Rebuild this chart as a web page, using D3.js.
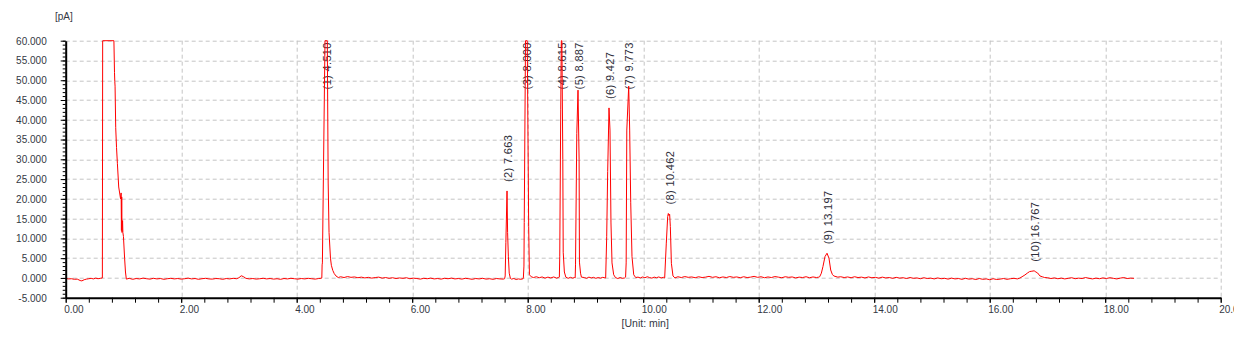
<!DOCTYPE html>
<html>
<head>
<meta charset="utf-8">
<script src="https://cdn.jsdelivr.net/npm/d3@7"></script>
<style>
  body { margin: 0; background: #fff; }
  text { font-family: "Liberation Sans", Arial, sans-serif; }
</style>
</head>
<body>
<div id="chart"></div>
<script>
// ---- data (time in min, signal in pA) ----
const xTicks = [0, 2, 4, 6, 8, 10, 12, 14, 16, 18, 20];
const xTickLabels = ["0.00", "2.00", "4.00", "6.00", "8.00", "10.00", "12.00", "14.00", "16.00", "18.00", "20.00"];
const yTicks = [-5000, 0, 5000, 10000, 15000, 20000, 25000, 30000, 35000, 40000, 45000, 50000, 55000, 60000];
const yTickLabels = ["-5.000", "0.000", "5.000", "10.000", "15.000", "20.000", "25.000", "30.000", "35.000", "40.000", "45.000", "50.000", "55.000", "60.000"];

const peakNames = ["(1) 4.510", "(2) 7.663", "(3) 8.000", "(4) 8.615", "(5) 8.887", "(6) 9.427", "(7) 9.773", "(8) 10.462", "(9) 13.197", "(10) 16.767"];
const peakApex = [4.51, 7.642, 7.977, 8.587, 8.871, 9.408, 9.749, 10.447, 13.183, 16.77];
const peakHeight = [60000, 22000, 60000, 60000, 47500, 43000, 48500, 16300, 6250, 1800];

// solvent front
const solvent = [
  [0.00,-150],[0.05,-250],[0.10,-200],[0.15,-350],[0.20,-300],[0.25,-650],[0.28,-750],[0.32,-450],
  [0.36,-300],[0.40,-200],[0.44,-100],[0.48,-250],[0.52,-50],[0.56,-200],[0.60,-100],[0.635,0],
  [0.64,60000],[0.835,60000],[0.845,52000],[0.85,49700],[0.855,48500],[0.866,38000],[0.88,33000],
  [0.895,29000],[0.918,23000],[0.95,20000],[0.96,21500],[0.965,12000],[0.97,20500],[0.975,11500],
  [0.985,14500],[0.99,11500],[1.00,10500],[1.02,5000],[1.035,1500],[1.05,-300]
];

// baseline and peaks 1..10
const trace = [
  [1.10,-100],[1.16,-350],[1.22,-150],[1.28,-250],[1.34,-50],[1.40,-200],[1.46,-300],[1.52,-100],
  [1.58,-250],[1.64,-150],[1.70,-350],[1.76,-200],[1.82,-100],[1.88,-250],[1.94,-150],[2.00,-300],
  [2.06,-200],[2.12,-50],[2.18,-250],[2.24,-150],[2.30,-350],[2.36,-200],[2.42,-100],[2.48,-250],
  [2.54,-300],[2.60,-150],[2.66,-200],[2.72,-350],[2.78,-150],[2.84,-250],[2.90,-100],[2.96,-200],
  [3.00,50],[3.04,550],[3.08,300],[3.12,-100],[3.18,-250],[3.24,-150],[3.30,-300],[3.36,-200],
  [3.42,-100],[3.48,-250],[3.54,-150],[3.60,-300],[3.66,-200],[3.72,-350],[3.78,-150],[3.84,-250],
  [3.90,-100],[3.96,-200],[4.02,-300],[4.08,-150],[4.14,-250],[4.20,-100],[4.26,-200],[4.32,-300],
  [4.38,-150],[4.42,-100],
  // (1)
  [4.435,0],[4.44,3300],[4.445,3800],[4.49,60000],[4.53,60000],[4.545,24000],[4.56,11500],
  [4.585,5000],[4.60,3200],[4.625,1900],[4.65,1100],[4.68,500],[4.72,100],
  [4.76,300],[4.82,100],[4.88,350],[4.94,150],[5.00,250],[5.06,50],[5.12,200],[5.18,0],
  [5.24,150],[5.30,-50],[5.36,100],[5.42,200],[5.48,-50],[5.54,100],[5.60,-100],[5.66,50],
  [5.72,-150],[5.78,0],[5.84,-100],[5.90,50],[5.96,-200],[6.02,-50],[6.08,-150],[6.14,-300],
  [6.20,-100],[6.26,-200],[6.32,-50],[6.38,-250],[6.44,-150],[6.50,-300],[6.56,-100],[6.62,-200],
  [6.68,-50],[6.74,-250],[6.80,-150],[6.86,-300],[6.92,-100],[6.98,-200],[7.04,-350],[7.10,-150],
  [7.16,-250],[7.22,-100],[7.28,-300],[7.34,-200],[7.40,-350],[7.46,-150],[7.52,-250],[7.58,-300],
  // (2)
  [7.60,-200],[7.61,500],[7.622,9000],[7.642,22000],[7.652,11500],[7.665,5500],[7.68,1200],[7.70,-100],
  [7.72,-300],[7.76,-150],[7.80,-400],[7.84,-250],[7.88,-350],[7.92,-200],
  // (3)
  [7.925,0],[7.935,3000],[7.94,14000],[7.962,60000],[7.992,60000],[8.017,13000],[8.03,800],[8.06,300],
  [8.10,100],[8.15,300],[8.20,50],[8.25,250],[8.30,-50],[8.35,200],[8.40,0],[8.45,250],[8.50,-50],[8.53,100],
  // (4)
  [8.548,200],[8.555,5500],[8.572,42500],[8.582,60000],[8.592,60000],[8.608,30000],[8.615,6500],
  [8.635,1500],[8.66,200],
  [8.70,-100],[8.74,150],[8.78,-50],[8.81,100],
  // (5)
  [8.822,0],[8.828,3300],[8.85,36500],[8.871,47500],[8.89,30000],[8.896,4000],[8.915,1200],[8.93,200],
  [8.98,100],[9.02,-100],[9.06,200],[9.10,0],[9.14,150],[9.18,-100],[9.22,100],[9.26,-50],[9.30,150],[9.34,0],
  // (6)
  [9.35,0],[9.368,10400],[9.385,26900],[9.408,43000],[9.425,37400],[9.442,13900],[9.46,3800],
  [9.489,800],[9.52,100],
  [9.56,-150],[9.60,100],[9.64,-100],[9.68,0],
  // (7)
  [9.695,200],[9.705,3800],[9.716,37400],[9.749,48500],[9.766,37400],[9.784,19000],[9.806,5400],
  [9.836,800],[9.87,100],
  [9.91,200],[9.95,0],[9.99,250],[10.03,50],[10.07,300],[10.11,100],[10.15,-50],[10.19,200],
  [10.23,50],[10.27,250],[10.31,0],[10.35,150],
  // (8)
  [10.372,0],[10.40,8800],[10.424,15500],[10.435,16300],[10.447,15800],[10.458,16100],[10.47,13000],
  [10.488,3700],[10.516,500],[10.55,0],
  [10.60,300],[10.66,100],[10.72,350],[10.78,150],[10.84,250],[10.90,50],[10.96,300],[11.02,100],
  [11.08,200],[11.14,400],[11.20,150],[11.26,300],[11.32,50],[11.38,250],[11.44,100],[11.50,350],
  [11.56,150],[11.62,250],[11.68,50],[11.74,300],[11.80,100],[11.86,200],[11.92,400],[11.98,150],
  [12.04,300],[12.10,50],[12.16,250],[12.22,100],[12.28,350],[12.34,200],[12.40,50],[12.46,300],
  [12.52,150],[12.58,250],[12.64,0],[12.70,200],[12.76,100],[12.82,300],[12.88,50],[12.94,250],
  [13.00,100],[13.04,200],
  // (9)
  [13.056,300],[13.085,1200],[13.113,2900],[13.148,5400],[13.183,6250],[13.217,5000],[13.247,2000],
  [13.275,900],[13.30,500],[13.37,200],
  [13.42,300],[13.48,100],[13.54,250],[13.60,50],[13.66,300],[13.72,100],[13.78,200],[13.84,0],
  [13.90,250],[13.96,50],[14.02,150],[14.08,-50],[14.14,200],[14.20,0],[14.26,100],[14.32,-100],
  [14.38,150],[14.44,-50],[14.50,50],[14.56,-150],[14.62,100],[14.68,-100],[14.74,0],[14.80,-200],
  [14.86,50],[14.92,-150],[14.98,-50],[15.04,-250],[15.10,0],[15.16,-200],[15.22,-100],[15.28,-300],
  [15.34,-50],[15.40,-250],[15.46,-150],[15.52,-350],[15.58,-100],[15.64,-300],[15.70,-200],[15.76,-400],
  [15.82,-150],[15.88,-350],[15.94,-250],[16.00,-450],[16.06,-200],[16.12,-400],[16.18,-300],[16.24,-150],
  [16.30,-350],[16.36,-200],[16.42,-100],[16.48,-250],[16.52,-50],
  // (10)
  [16.56,300],[16.61,750],[16.65,1200],[16.69,1600],[16.73,1700],[16.77,1800],[16.80,1500],[16.83,1250],
  [16.87,500],[16.91,300],[16.95,100],
  [17.00,50],[17.06,-150],[17.12,0],[17.18,-200],[17.24,-50],[17.30,-250],[17.36,-100],[17.42,50],
  [17.48,-200],[17.54,-50],[17.60,-150],[17.66,100],[17.72,-100],[17.78,-250],[17.84,-50],[17.90,-200],
  [17.96,0],[18.02,-150],[18.08,50],[18.14,-100],[18.20,-250],[18.26,-50],[18.32,100],[18.38,-150],
  [18.44,-50],[18.50,-100]
];

const WIDTH = 1254;
const HEIGHT = 340;
const margin = {top: 40.7, right: 33.3, bottom: 42.3, left: 65.7};
const w = WIDTH - margin.left - margin.right;
const h = HEIGHT - margin.top - margin.bottom;

const svg = d3.select('#chart').append('svg')
    .attr('width', WIDTH)
    .attr('height', HEIGHT);

svg.append('defs').append('clipPath').attr('id', 'cut')
  .append('rect').attr('x', 0).attr('y', 0).attr('width', 1234).attr('height', HEIGHT);

const g = svg.append('g')
    .attr('clip-path', 'url(#cut)')
  .append('g')
    .attr('transform', `translate(${margin.left},${margin.top})`);

const x = d3.scaleLinear().domain([0, 20]).range([0, w]);
const y = d3.scaleLinear().domain([-5000, 60000]).range([h, 0]);

// grid
g.append('g').selectAll('line').data(yTicks.filter(v => v > -5000))
  .join('line')
    .attr('x1', 0).attr('x2', w)
    .attr('y1', d => Math.round(y(d)) + 0.5).attr('y2', d => Math.round(y(d)) + 0.5)
    .attr('stroke', '#c4c4c4').attr('stroke-dasharray', '4,3');
g.append('g').selectAll('line').data(xTicks.filter(v => v > 0))
  .join('line')
    .attr('y1', 0).attr('y2', h)
    .attr('x1', d => Math.round(x(d)) + 0.5).attr('x2', d => Math.round(x(d)) + 0.5)
    .attr('stroke', '#c4c4c4').attr('stroke-dasharray', '4,3');

// peak labels (under the trace), pushed down when they would pass the top
const lab = g.append('g').selectAll('text').data(peakNames)
  .join('text')
    .attr('font-size', 11)
    .attr('letter-spacing', 0.35)
    .attr('fill', '#2e2e3a')
    .attr('dominant-baseline', 'central')
    .text(d => d);
lab.each(function(d, i) {
  const len = this.getComputedTextLength();
  const start = Math.max(y(peakHeight[i]) - 9, len + 1.5);
  d3.select(this).attr('transform', `translate(${x(peakApex[i]) + 0.5},${start}) rotate(-90)`);
});

// trace
const line = d3.line().x(d => x(d[0])).y(d => y(d[1]));
g.append('path').datum(solvent.concat(trace))
  .attr('d', line)
  .attr('fill', 'none')
  .attr('stroke', '#ff0000')
  .attr('stroke-width', 1);

// axes
const yMinor = d3.range(-5000, 60001, 1000);
g.append('g').call(d3.axisLeft(y).tickValues(yMinor).tickSize(3).tickFormat('').tickSizeOuter(0))
  .call(a => a.select('.domain').remove());
const yAxis = g.append('g').call(d3.axisLeft(y).tickValues(yTicks).tickSize(5).tickSizeOuter(0)
    .tickFormat((d, i) => yTickLabels[i]));
yAxis.select('.domain').attr('stroke-width', 2);
yAxis.selectAll('text').attr('font-size', 10).attr('fill', '#333844').attr('x', -19).attr('dy', '0.34em');

const xMinor = d3.range(0, 20.001, 0.4);
g.append('g').attr('transform', `translate(0,${h})`)
  .call(d3.axisBottom(x).tickValues(xMinor).tickSize(5).tickFormat('').tickSizeOuter(0))
  .call(a => a.select('.domain').attr('stroke-width', 2));
const xAxis = g.append('g').attr('transform', `translate(0,${h})`)
  .call(d3.axisBottom(x).tickValues(xTicks).tickSize(5).tickSizeOuter(0)
    .tickFormat((d, i) => xTickLabels[i]));
xAxis.select('.domain').remove();
xAxis.selectAll('text').attr('font-size', 10).attr('fill', '#333844')
  .attr('text-anchor', 'start').attr('x', -2).attr('y', 8).attr('dy', '0.71em');

// axis titles
svg.append('text').attr('x', 55).attr('y', 20).attr('font-size', 10).attr('fill', '#333844').text('[pA]');
svg.append('text').attr('x', margin.left + w / 2 + 2).attr('y', 327).attr('text-anchor', 'middle')
  .attr('font-size', 10.5).attr('fill', '#333844').text('[Unit: min]');
</script>
</body>
</html>
